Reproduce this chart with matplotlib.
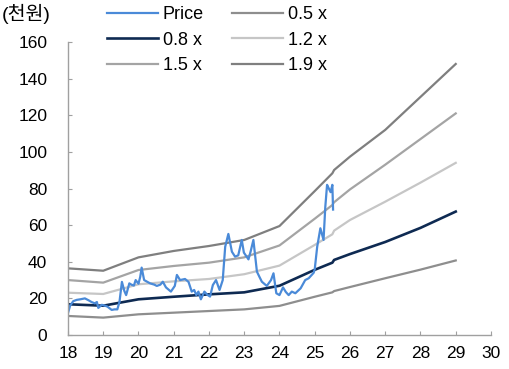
import matplotlib
matplotlib.use('Agg')
import matplotlib.pyplot as plt

plt.rcParams['font.family'] = ['Liberation Sans', 'Noto Sans CJK KR', 'DejaVu Sans']

# 주가 (연도 소수점 표기, 천원)
price_x = [18.00, 18.06, 18.15, 18.25, 18.35, 18.48, 18.58, 18.67, 18.76, 18.82,
           18.86, 18.96, 19.05, 19.12, 19.24, 19.32, 19.40, 19.46, 19.53, 19.60,
           19.65, 19.74, 19.80, 19.87, 19.92, 20.00, 20.05, 20.09, 20.16, 20.33,
           20.45, 20.52, 20.62, 20.69, 20.78, 20.92, 21.03, 21.09, 21.18, 21.32,
           21.42, 21.51, 21.58, 21.64, 21.70, 21.77, 21.87, 21.95, 22.03, 22.11,
           22.20, 22.30, 22.39, 22.46, 22.55, 22.65, 22.74, 22.83, 22.93, 22.99,
           23.12, 23.18, 23.26, 23.36, 23.43, 23.50, 23.64, 23.76, 23.83, 23.91,
           24.00, 24.10, 24.18, 24.26, 24.35, 24.45, 24.60, 24.73, 24.83, 24.97,
           25.00, 25.07, 25.16, 25.25, 25.30, 25.35, 25.40, 25.45, 25.50, 25.52]
price_y = [12.0, 16.0, 18.5, 19.2, 19.5, 20.0, 19.0, 18.0, 17.3, 18.0,
           14.8, 16.5, 16.0, 15.5, 13.7, 14.0, 14.0, 18.0, 29.0, 24.0,
           21.8, 28.2, 27.5, 27.0, 30.0, 28.0, 31.8, 36.8, 30.0, 28.2,
           27.5, 26.8, 27.5, 29.1, 26.0, 23.7, 26.8, 32.8, 30.0, 30.6,
           29.0, 23.7, 24.6, 21.8, 23.7, 19.5, 23.7, 22.0, 21.0, 27.3,
           30.0, 24.6, 30.0, 48.2, 55.2, 45.5, 42.8, 43.5, 51.9, 45.0,
           41.3, 45.5, 51.9, 34.6, 31.8, 29.1, 26.8, 30.0, 33.7, 22.8,
           21.8, 26.0, 23.5, 21.8, 23.7, 22.8, 25.5, 30.0, 31.0, 34.0,
           35.9, 48.2, 58.3, 51.9, 70.0, 82.0, 80.0, 78.0, 82.0, 68.5]

# 밴드
band_x = [18, 19, 20, 21, 22, 23, 24, 25, 25.5, 25.55, 26, 27, 28, 29]
band_05 = [10.4, 9.5, 11.3, 12.2, 13.1, 14.0, 15.9, 20.9, 23.3, 24.0, 26.2, 31.0, 35.7, 40.7]
band_08 = [16.8, 16.0, 19.5, 20.9, 22.2, 23.3, 26.9, 35.6, 39.5, 41.0, 44.2, 50.8, 58.5, 67.4]
band_12 = [23.1, 22.4, 27.7, 29.3, 30.6, 33.2, 37.9, 49.2, 55.0, 57.0, 62.8, 72.8, 83.2, 94.0]
band_15 = [30.0, 28.6, 35.5, 37.7, 39.5, 42.4, 48.9, 63.5, 71.0, 72.5, 79.5, 93.0, 107.0, 121.0]
band_19 = [36.4, 35.1, 42.4, 45.9, 48.6, 51.9, 59.5, 78.6, 88.3, 90.1, 97.4, 112.0, 130.0, 148.0]

x_ticks = list(range(18, 31))
y_ticks = list(range(0, 161, 20))

fig = plt.figure(figsize=(5.1, 3.69), dpi=100)
ax = fig.add_axes([0.1333, 0.0921, 0.8294, 0.7941])

l05, = ax.plot(band_x, band_05, color='#8e8e8e', lw=1.6, label='0.5 x')
l08, = ax.plot(band_x, band_08, color='#0e2a52', lw=1.9, label='0.8 x')
l12, = ax.plot(band_x, band_12, color='#c6c6c6', lw=1.6, label='1.2 x')
l15, = ax.plot(band_x, band_15, color='#a4a4a4', lw=1.6, label='1.5 x')
l19, = ax.plot(band_x, band_19, color='#7f7f7f', lw=1.6, label='1.9 x')
lp, = ax.plot(price_x, price_y, color='#4a8ad8', lw=1.6, label='Price')

ax.set_xlim(18, 30)
ax.set_ylim(0, 160)
ax.set_xticks(x_ticks)
ax.set_yticks(y_ticks)
for s in ['top', 'right']:
    ax.spines[s].set_visible(False)
for s in ['left', 'bottom']:
    ax.spines[s].set_color('#a0a0a0')
    ax.spines[s].set_linewidth(1.0)
ax.tick_params(axis='both', direction='in', length=3, color='#a0a0a0', labelsize=12.5)
ax.tick_params(axis='y', pad=15)
ax.tick_params(axis='x', pad=8)

fig.legend(handles=[lp, l08, l15, l05, l12, l19], ncol=2, frameon=False,
           loc='upper left', bbox_to_anchor=(107 / 510, 1 - 6 / 369),
           borderpad=0, borderaxespad=0, handlelength=2.8, handletextpad=0.3,
           columnspacing=1.55, labelspacing=0.48, fontsize=13)

fig.text(2 / 510, 1 - 14 / 369, '(천원)', ha='left', va='center', fontsize=14)

fig.savefig('out.png', dpi=100)
